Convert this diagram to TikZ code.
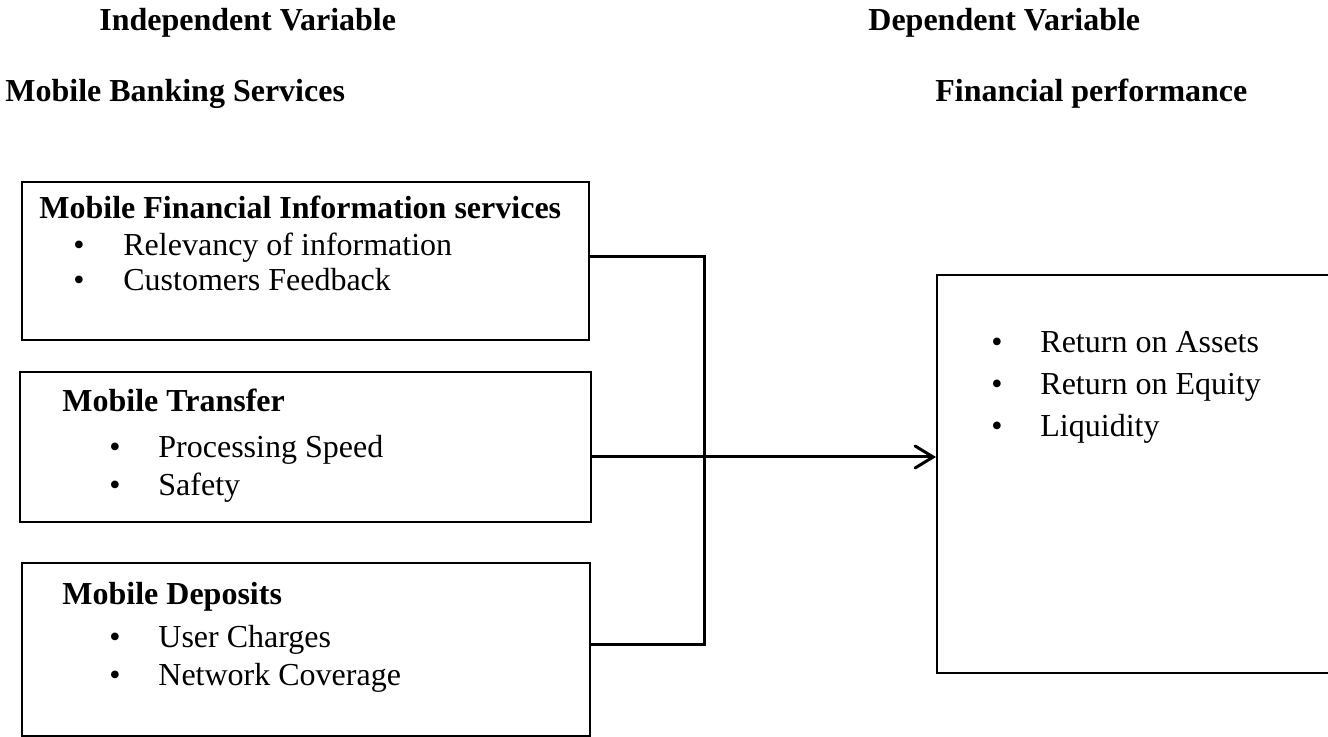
\documentclass[tikz,border=0pt]{standalone}
\usepackage{fontspec}
\setmainfont{Liberation Serif}
\usetikzlibrary{positioning,calc,arrows.meta}

\begin{document}
\begin{tikzpicture}[x=0.5pt,y=-0.5pt,
    panel/.style={draw, line width=1pt, inner sep=0pt},
    txt/.style={anchor=base west, inner sep=0pt, font=\fontsize{16}{19}\selectfont},
    head/.style={txt, font=\fontsize{16}{19}\selectfont\bfseries},
    dot/.style={txt, anchor=base},
    link/.style={line width=1.5pt}]
    \useasboundingbox (0,0) rectangle (1328,737);

    % Headings
    \node[head] (indep) at (99,31) {Independent Variable};
    \node[head] (dep) at (868,31) {Dependent Variable};
    \node[head] (mbs) at (5,102) {Mobile Banking Services};
    \node[head] (finperf) at (935,102) {Financial performance};

    % Boxes
    \node[panel, minimum width=283.5pt, minimum height=79pt] (mfis) at (305.5,261) {};
    \node[panel, minimum width=285.5pt, minimum height=75pt] (mtr) at (305.5,447) {};
    \node[panel, minimum width=284pt, minimum height=86.5pt] (mdep) at (306,649.5) {};
    \node[panel, minimum width=204pt, minimum height=199pt] (fp) at (1141,474) {};

    % Box texts
    \node[head] (mfis-t) at (39,219) {Mobile Financial Information services};
    \foreach \y/\item [count=\i] in {256/Relevancy of information, 291/Customers Feedback}
        \node[dot] (mfis-b\i) at (79,\y) {•} node[txt] (mfis-i\i) at (123,\y) {\item};

    \node[head] (mtr-t) at (62,412) {Mobile Transfer};
    \foreach \y/\item [count=\i] in {458/Processing Speed, 495/Safety}
        \node[dot] (mtr-b\i) at (115,\y) {•} node[txt] (mtr-i\i) at (158,\y) {\item};

    \node[head] (mdep-t) at (62,604) {Mobile Deposits};
    \foreach \y/\item [count=\i] in {647/User Charges, 685/Network Coverage}
        \node[dot] (mdep-b\i) at (115,\y) {•} node[txt] (mdep-i\i) at (158,\y) {\item};

    \foreach \y/\item [count=\i] in {353/Return on Assets, 395/Return on Equity, 437/Liquidity}
        \node[dot] (fp-b\i) at (997,\y) {•} node[txt] (fp-i\i) at (1040,\y) {\item};

    % Connectors
    \coordinate (jtop) at (704,257);
    \coordinate (jbot) at (704,644);
    \draw[link] ([yshift=2pt]mfis.east) -- (jtop) -- (jbot) -- ([yshift=2.75pt]mdep.east);
    \draw[link, -{Straight Barb[length=9pt,width=11pt,line cap=round]}] ([yshift=-5pt]mtr.east) -- ([yshift=-5pt]mtr.east -| fp.west);
\end{tikzpicture}
\end{document}
